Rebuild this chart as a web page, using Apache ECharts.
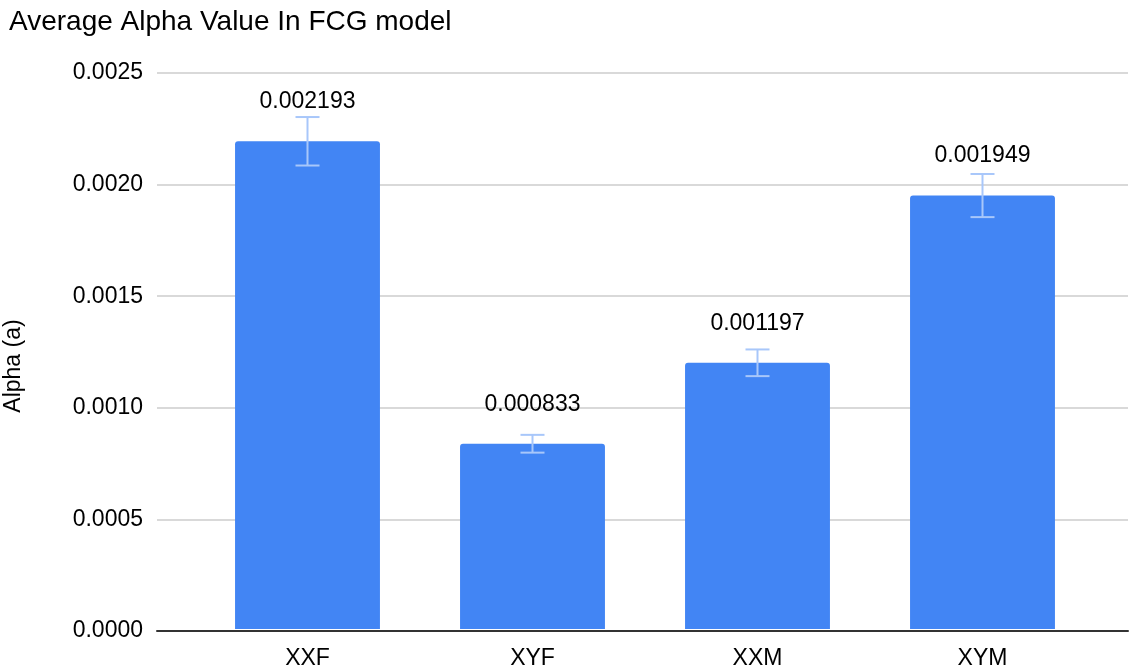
<!DOCTYPE html>
<html><head><meta charset="utf-8">
<script src="https://cdn.jsdelivr.net/npm/echarts@6/dist/echarts.min.js"></script>
<style>html,body{margin:0;padding:0;background:#fff}#c{width:1129px;height:670px}</style>
</head><body><div id="c"></div>
<script>
var categories = ['XXF', 'XYF', 'XXM', 'XYM'];
var values = [0.002193, 0.000833, 0.001197, 0.001949];
var errors = [0.000109, 0.000040, 0.000060, 0.000097];
var yTicks = ['0.0000', '0.0005', '0.0010', '0.0015', '0.0020', '0.0025'];

var chart = echarts.init(document.getElementById('c'));
var FONT = '"Liberation Sans", Arial, sans-serif';
chart.setOption({
  animation: false,
  title: {
    text: 'Average Alpha Value In FCG model',
    left: 4, top: 3,
    textStyle: { fontFamily: FONT, fontSize: 28, fontWeight: 'normal', color: '#000' }
  },
  graphic: [{
    type: 'text', x: 14, y: 366, rotation: Math.PI / 2,
    style: { text: 'Alpha (a)', fontFamily: FONT, fontSize: 23, fill: '#000',
             align: 'center', verticalAlign: 'middle' }
  }],
  grid: [
    { left: 157, right: 1, top: 73, bottom: 39 },
    { left: 195, right: 34, top: 73, bottom: 39 }
  ],
  xAxis: [{
    gridIndex: 0, type: 'value', min: 0, max: 1,
    axisLine: { show: true, onZero: false, lineStyle: { color: '#333', width: 2 } },
    axisTick: { show: false }, axisLabel: { show: false }, splitLine: { show: false }
  }, {
    gridIndex: 1, type: 'category', data: categories,
    axisLine: { show: false },
    axisTick: { show: false },
    axisLabel: { fontFamily: FONT, fontSize: 23, color: '#000', margin: 18 }
  }],
  yAxis: [{
    gridIndex: 0, type: 'value', min: 0, max: 0.0025, interval: 0.0005,
    axisLine: { show: false }, axisTick: { show: false },
    splitLine: { lineStyle: { color: '#ccc', width: 1.5 } },
    axisLabel: {
      fontFamily: FONT, fontSize: 23, color: '#000', margin: 14,
      formatter: function (v) { return yTicks[Math.round(v / 0.0005)]; }
    }
  }, {
    gridIndex: 1, type: 'value', min: 0, max: 0.0025, interval: 0.0005,
    show: false, splitLine: { show: false }
  }],
  series: [{
    type: 'bar', data: values, barWidth: '64.4%',
    xAxisIndex: 1, yAxisIndex: 1,
    itemStyle: { color: '#4285F4', borderRadius: [3, 3, 0, 0] },
    label: {
      show: true, position: 'top', distance: 28,
      fontFamily: FONT, fontSize: 23, color: '#000',
      formatter: function (p) { return p.value.toFixed(6); }
    },
    z: 2
  }, {
    type: 'custom', xAxisIndex: 1, yAxisIndex: 1,
    data: values.map(function (v, i) { return [i, v - errors[i], v + errors[i]]; }),
    renderItem: function (params, api) {
      var lo = api.coord([api.value(0), api.value(1)]);
      var hi = api.coord([api.value(0), api.value(2)]);
      var hw = 12;
      var st = { stroke: '#a8c7fa', lineWidth: 2, fill: null };
      return {
        type: 'group', children: [
          { type: 'line', shape: { x1: hi[0], y1: hi[1], x2: lo[0], y2: lo[1] }, style: st },
          { type: 'line', shape: { x1: hi[0] - hw, y1: hi[1], x2: hi[0] + hw, y2: hi[1] }, style: st },
          { type: 'line', shape: { x1: lo[0] - hw, y1: lo[1], x2: lo[0] + hw, y2: lo[1] }, style: st }
        ]
      };
    },
    z: 3
  }]
});
</script></body></html>
